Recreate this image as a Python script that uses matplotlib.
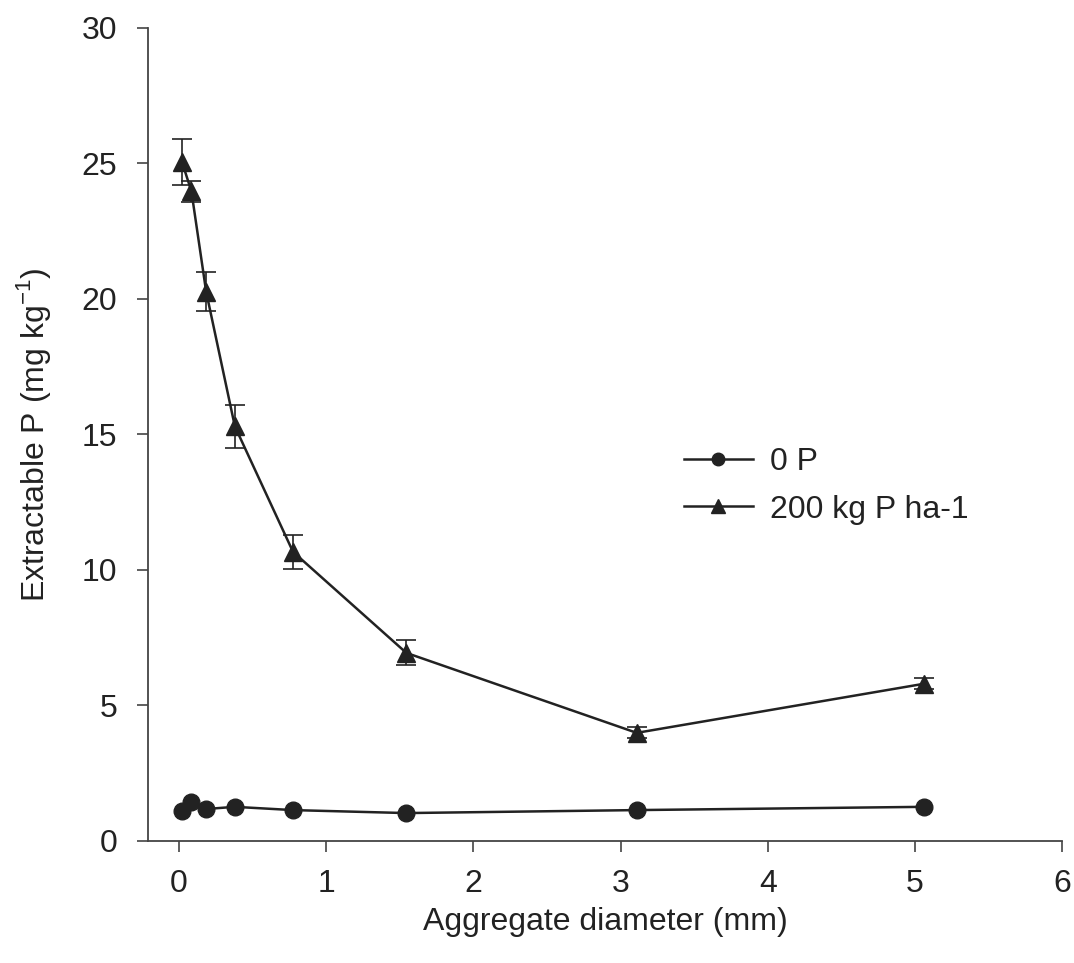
import matplotlib
matplotlib.use("Agg")
import matplotlib.pyplot as plt

plt.rcParams['font.family'] = ['Liberation Sans', 'DejaVu Sans']

# aggregate size classes (mm) and extractable P
diameter = [0.02, 0.085, 0.185, 0.38, 0.775, 1.545, 3.11, 5.06]
p_zero = [1.10, 1.44, 1.18, 1.26, 1.14, 1.03, 1.14, 1.26]
p_200 = [25.07, 23.97, 20.27, 15.30, 10.67, 6.94, 3.99, 5.80]
p_200_err = [0.85, 0.40, 0.72, 0.80, 0.62, 0.46, 0.20, 0.20]

ink = '#222222'

fig = plt.figure(figsize=(10.74, 9.63), dpi=100)
ax = fig.add_axes([0.1378, 0.1267, 0.8512, 0.8443])

ax.plot(diameter, p_zero, marker='o', color=ink, linewidth=1.8,
        markersize=12, label='0 P', zorder=3)
ax.errorbar(diameter, p_200, yerr=p_200_err, marker='^', color=ink,
            linewidth=1.8, markersize=13.5, capsize=7, elinewidth=1.2,
            capthick=1.2, label='200 kg P ha-1', zorder=3)

ax.set_xlim(-0.21, 6.0)
ax.set_ylim(0, 30)
ax.set_xticks(range(0, 7))
ax.set_yticks(range(0, 31, 5))

for side in ['top', 'right']:
    ax.spines[side].set_visible(False)
for side in ['left', 'bottom']:
    ax.spines[side].set_color('#444444')
    ax.spines[side].set_linewidth(1.3)

ax.tick_params(direction='out', length=8, width=1.2, colors='#444444',
               labelcolor=ink, labelsize=23)
ax.tick_params(axis='y', pad=14)
ax.tick_params(axis='x', pad=12)

ax.set_xlabel('Aggregate diameter (mm)', fontsize=23, color=ink, labelpad=6)
ax.set_ylabel(r'Extractable P (mg kg$^{\mathregular{-1}}$)', fontsize=23,
              color=ink, labelpad=21)

handles, labels = ax.get_legend_handles_labels()
leg = ax.legend([handles[0], handles[1][0]], labels, frameon=False,
                loc='upper left', bbox_to_anchor=(684 / 1074, 1 - 447 / 963),
                bbox_transform=fig.transFigure, fontsize=23,
                handlelength=2.15, handletextpad=0.55, labelspacing=0.55,
                borderpad=0, borderaxespad=0, markerscale=0.75)
for t in leg.get_texts():
    t.set_color(ink)

fig.savefig('out.png', dpi=100, facecolor='white')
